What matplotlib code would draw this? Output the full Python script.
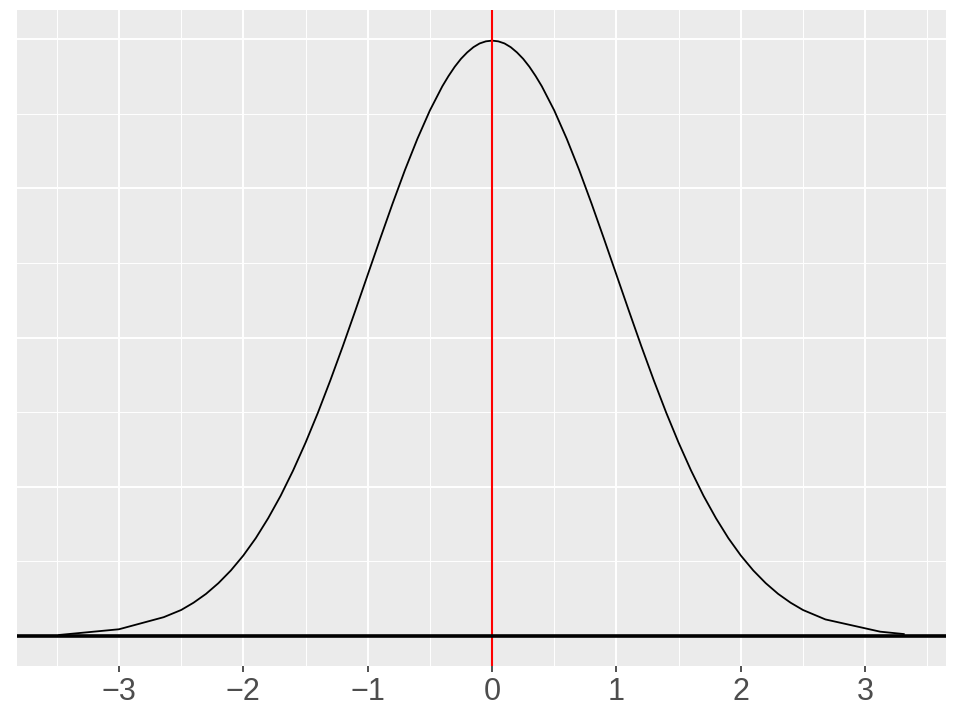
import matplotlib.pyplot as plt
from matplotlib.ticker import FixedLocator

plt.switch_backend("Agg")

# density curve points
x_vals = [-3.48, -3.0, -2.64, -2.5, -2.4, -2.3, -2.2, -2.1, -2.0, -1.9, -1.8, -1.7, -1.6,
          -1.5, -1.4, -1.3, -1.2, -1.1, -1.0, -0.9, -0.8, -0.7, -0.6, -0.5, -0.4, -0.35,
          -0.3, -0.25, -0.2, -0.15, -0.1, -0.05, 0.0, 0.05, 0.1, 0.15, 0.2, 0.25, 0.3,
          0.35, 0.4, 0.5, 0.6, 0.7, 0.8, 0.9, 1.0, 1.1, 1.2, 1.3, 1.4, 1.5, 1.6, 1.7,
          1.8, 1.9, 2.0, 2.1, 2.2, 2.3, 2.4, 2.5, 2.68, 3.12, 3.31]
density = [0.0008, 0.0046, 0.0127, 0.0175, 0.0224, 0.0283, 0.0355, 0.0440, 0.0540, 0.0656,
           0.0790, 0.0940, 0.1109, 0.1295, 0.1497, 0.1714, 0.1942, 0.2179, 0.2420, 0.2661,
           0.2897, 0.3123, 0.3332, 0.3521, 0.3683, 0.3752, 0.3814, 0.3867, 0.3910, 0.3945,
           0.3970, 0.3984, 0.3989, 0.3984, 0.3970, 0.3945, 0.3910, 0.3867, 0.3814, 0.3752,
           0.3683, 0.3521, 0.3332, 0.3123, 0.2897, 0.2661, 0.2420, 0.2179, 0.1942, 0.1714,
           0.1497, 0.1295, 0.1109, 0.0940, 0.0790, 0.0656, 0.0540, 0.0440, 0.0355, 0.0283,
           0.0224, 0.0175, 0.0112, 0.0030, 0.0014]

x_breaks = [-3, -2, -1, 0, 1, 2, 3]
x_minor = [-3.5, -2.5, -1.5, -0.5, 0.5, 1.5, 2.5, 3.5]
y_breaks = [0.0, 0.1, 0.2, 0.3, 0.4]
y_minor = [0.05, 0.15, 0.25, 0.35]

fig = plt.figure(figsize=(9.56, 7.2), dpi=100)
ax = fig.add_axes([17 / 956, 1 - 666 / 720, 929 / 956, 656 / 720])
ax.set_facecolor("#EBEBEB")

x_lo, x_hi = min(x_vals), max(x_vals)
pad = 0.05 * (x_hi - x_lo)
ax.set_xlim(x_lo - pad, x_hi + pad)
ax.set_ylim(-0.02, 0.4 + 0.0194)

for v in x_minor:
    ax.axvline(v, color="white", linewidth=0.7, zorder=0)
for v in y_minor:
    ax.axhline(v, color="white", linewidth=0.7, zorder=0)
for v in x_breaks:
    ax.axvline(v, color="white", linewidth=1.4, zorder=0)
for v in y_breaks:
    ax.axhline(v, color="white", linewidth=1.4, zorder=0)

ax.plot(x_vals, density, color="black", linewidth=1.3, zorder=3)
ax.axvline(0, color="red", linewidth=1.5, zorder=4)
ax.axhline(0, color="black", linewidth=2.6, zorder=5)

ax.xaxis.set_major_locator(FixedLocator(x_breaks))
ax.set_xticklabels([f"{v}" if v >= 0 else f"\u2212{abs(v)}" for v in x_breaks],
                   fontsize=22, color="#4D4D4D", family=["Liberation Sans", "DejaVu Sans"])
ax.tick_params(axis="x", length=4, width=1.2, color="#333333", pad=4)
ax.set_yticks([])
for s in ax.spines.values():
    s.set_visible(False)

fig.savefig("out.png", dpi=100)
